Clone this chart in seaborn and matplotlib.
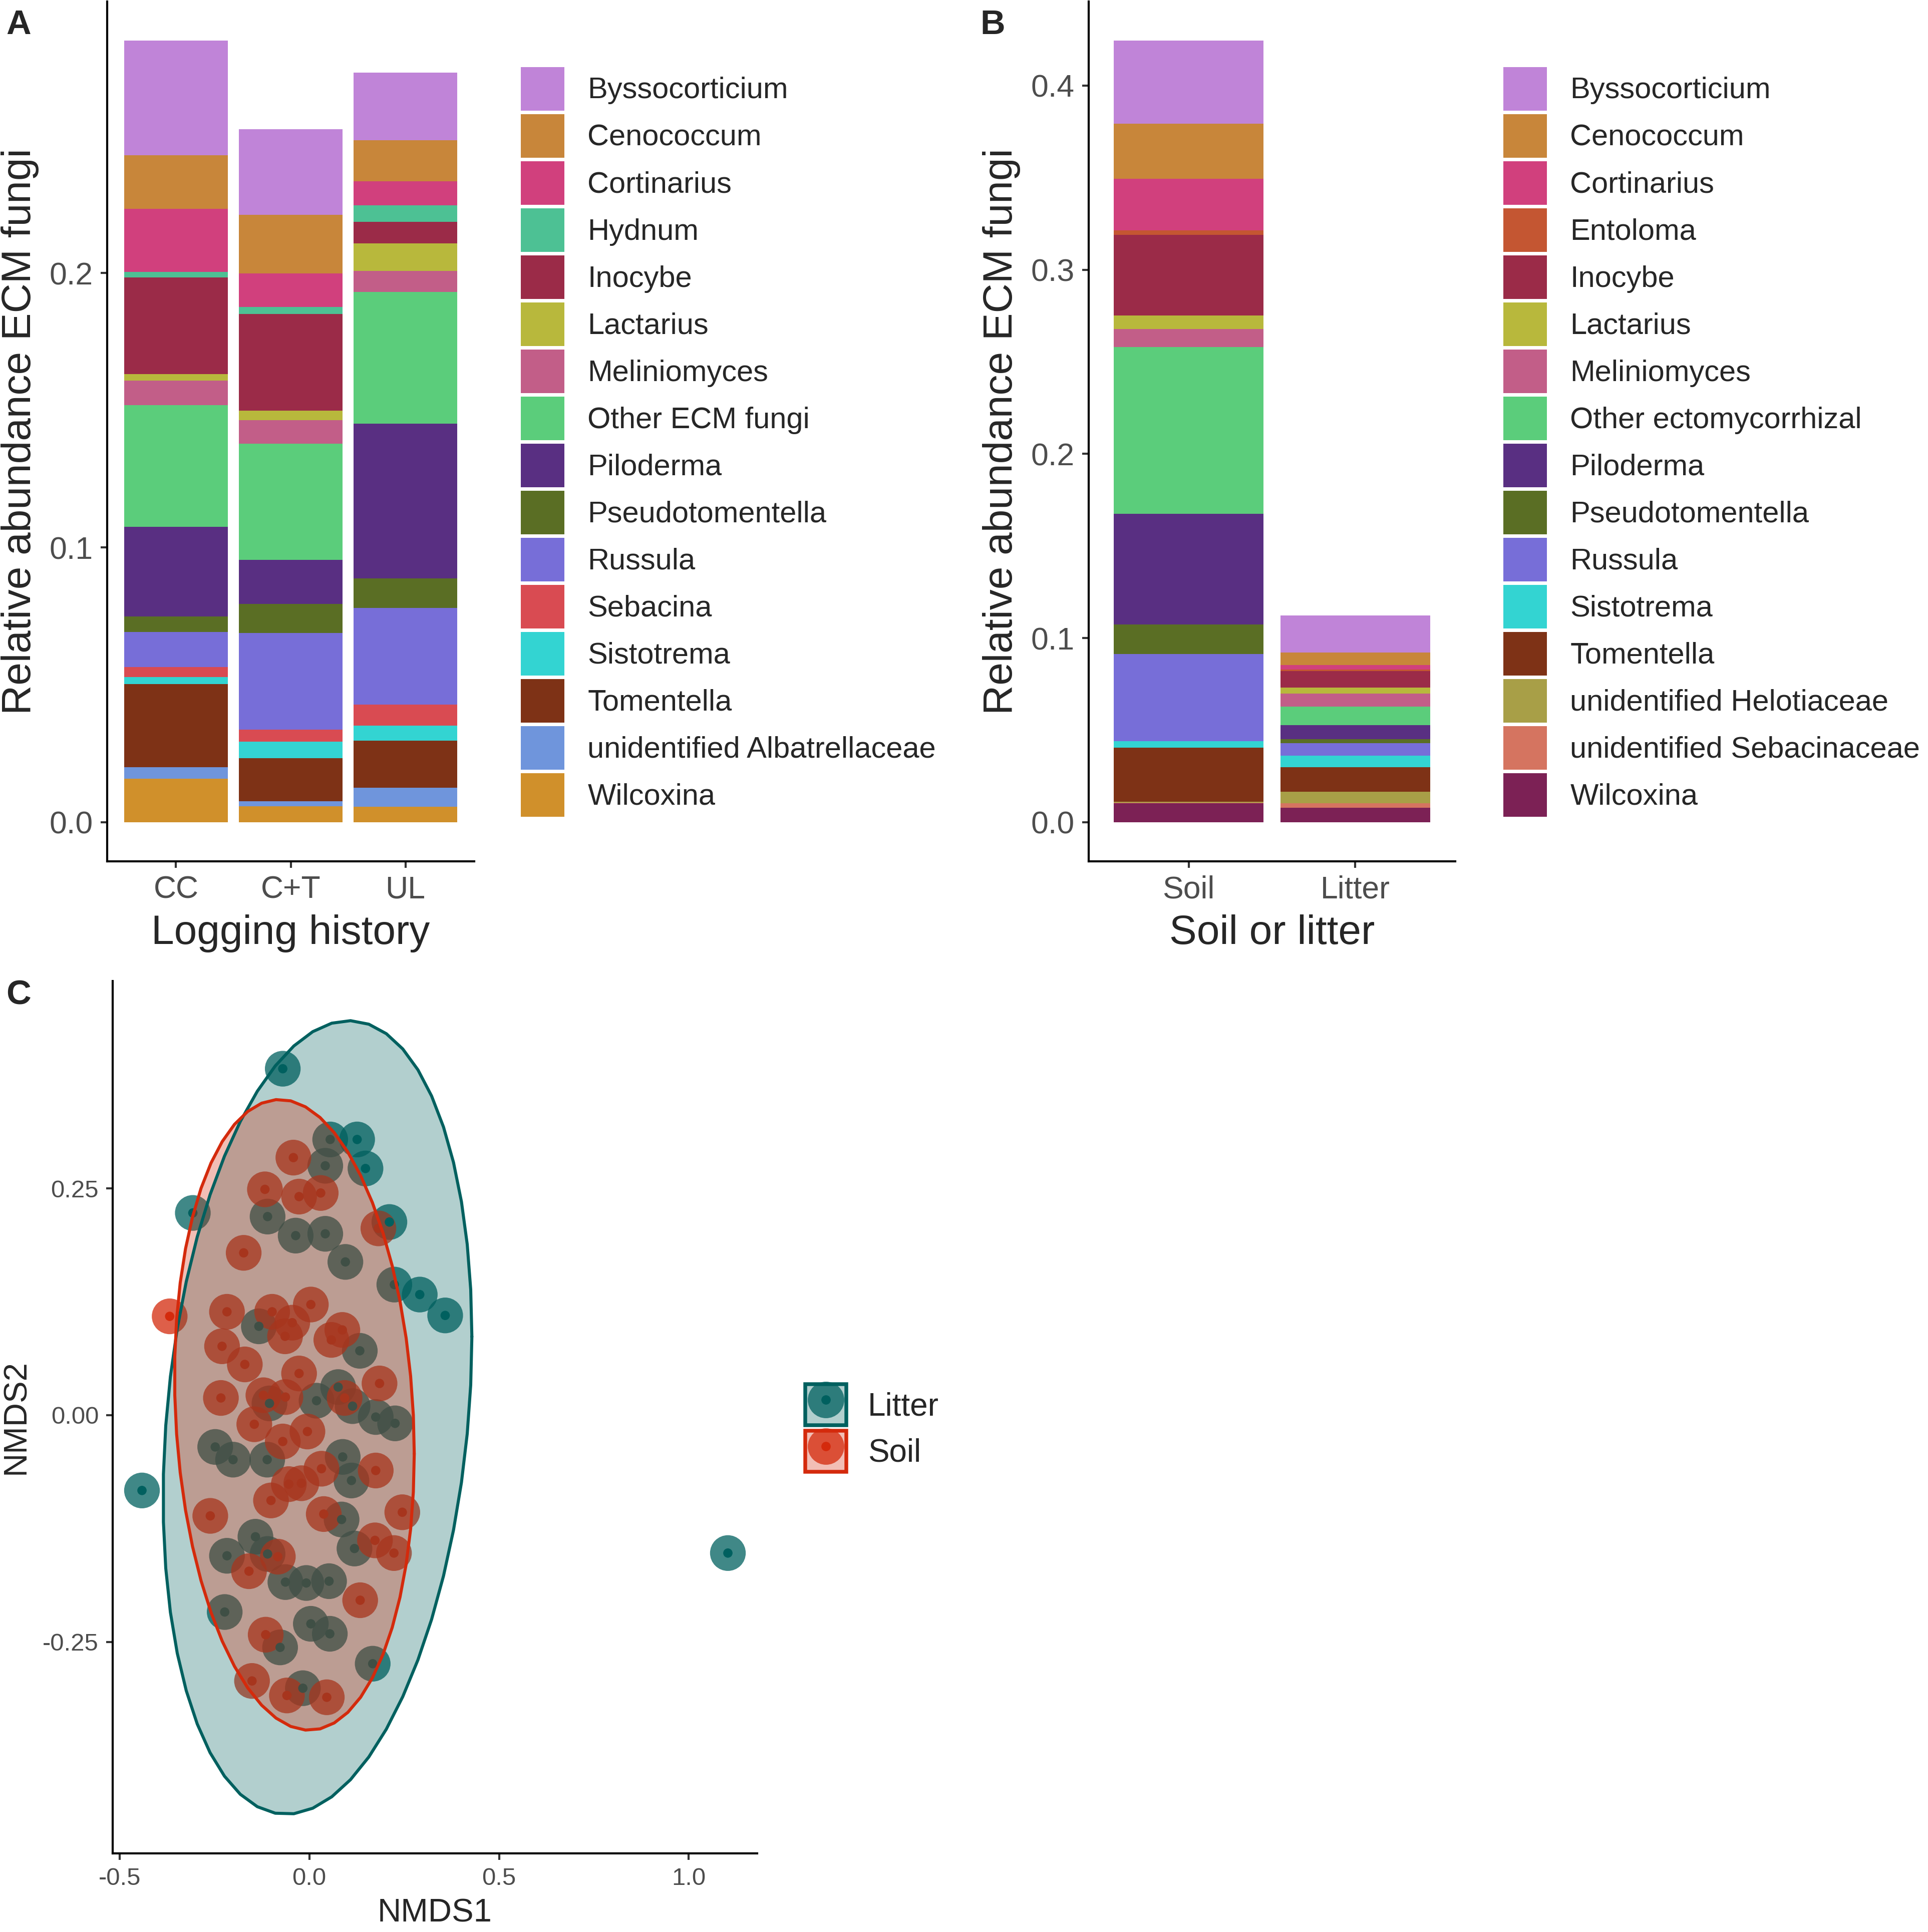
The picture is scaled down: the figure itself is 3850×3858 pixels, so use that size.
import numpy as np
import pandas as pd
import matplotlib
matplotlib.use("Agg")
import matplotlib.pyplot as plt
import seaborn as sns
from matplotlib.patches import Patch
from matplotlib.lines import Line2D
from matplotlib.legend_handler import HandlerTuple

# ---------------- Panel A data ----------------
genera_a = ["Byssocorticium", "Cenococcum", "Cortinarius", "Hydnum", "Inocybe",
            "Lactarius", "Meliniomyces", "Other ECM fungi", "Piloderma",
            "Pseudotomentella", "Russula", "Sebacina", "Sistotrema", "Tomentella",
            "unidentified Albatrellaceae", "Wilcoxina"]
history = ["CC", "C+T", "UL"]
cc_vals = [0.0418, 0.0194, 0.0230, 0.0020, 0.0352, 0.0024, 0.0090, 0.0442,
           0.0326, 0.0058, 0.0126, 0.0038, 0.0024, 0.0304, 0.0042, 0.0158]
ct_vals = [0.0312, 0.0214, 0.0122, 0.0026, 0.0352, 0.0034, 0.0086, 0.0422,
           0.0162, 0.0104, 0.0352, 0.0044, 0.0060, 0.0158, 0.0018, 0.0058]
ul_vals = [0.0246, 0.0150, 0.0088, 0.0060, 0.0078, 0.0100, 0.0078, 0.0478,
           0.0564, 0.0108, 0.0352, 0.0076, 0.0054, 0.0172, 0.0070, 0.0056]
colors_a = ["#C084D8", "#C8863A", "#D1407D", "#4DC194", "#9B2B48", "#B8B83C",
            "#C25E88", "#5BCD7B", "#592F82", "#5A6E24", "#776ED8", "#D94B52",
            "#33D4D2", "#7E3216", "#6F95DC", "#D0902B"]

# ---------------- Panel B data ----------------
genera_b = ["Byssocorticium", "Cenococcum", "Cortinarius", "Entoloma", "Inocybe",
            "Lactarius", "Meliniomyces", "Other ectomycorrhizal", "Piloderma",
            "Pseudotomentella", "Russula", "Sistotrema", "Tomentella",
            "unidentified Helotiaceae", "unidentified Sebacinaceae", "Wilcoxina"]
substrate = ["Soil", "Litter"]
soil_vals = [0.0450, 0.0301, 0.0280, 0.0024, 0.0438, 0.0074, 0.0098, 0.0905,
             0.0599, 0.0161, 0.0474, 0.0036, 0.0292, 0.0005, 0.0003, 0.0104]
litter_vals = [0.0200, 0.0069, 0.0024, 0.0009, 0.0089, 0.0033, 0.0069, 0.0101,
               0.0077, 0.0021, 0.0069, 0.0063, 0.0131, 0.0063, 0.0024, 0.0080]
colors_b = ["#C084D8", "#C8863A", "#D1407D", "#C45632", "#9B2B48", "#B8B83C",
            "#C25E88", "#5BCD7B", "#592F82", "#5A6E24", "#776ED8", "#33D4D2",
            "#7E3216", "#A89F47", "#D57460", "#7C2155"]

# ---------------- Panel C data (NMDS scores) ----------------
litter_x = [-0.070, 0.055, 0.126, 0.148, 0.042, -0.307, -0.110, -0.036, 0.042, 0.095,
            0.211, 0.224, 0.291, 0.358, -0.133, 0.133, 0.076, 0.019, -0.105, 0.114,
            0.175, 0.226, -0.248, -0.201, -0.111, 0.088, 0.111, 0.085, -0.142, -0.217,
            -0.110, 0.119, -0.063, -0.008, 0.052, -0.223, 0.004, 0.054, -0.077, 0.167,
            -0.017, -0.441, 1.103]
litter_y = [0.382, 0.304, 0.304, 0.272, 0.275, 0.223, 0.219, 0.198, 0.200, 0.169,
            0.213, 0.144, 0.133, 0.110, 0.098, 0.071, 0.031, 0.016, 0.013, 0.010,
            -0.002, -0.009, -0.035, -0.049, -0.049, -0.046, -0.072, -0.115, -0.134, -0.155,
            -0.153, -0.147, -0.184, -0.185, -0.183, -0.217, -0.230, -0.241, -0.256, -0.274,
            -0.301, -0.083, -0.152]
soil_x = [-0.042, -0.117, -0.027, 0.030, 0.182, -0.173, -0.368, -0.217, -0.098, 0.004,
          -0.045, -0.064, 0.087, 0.058, -0.230, -0.170, -0.027, 0.185, -0.233, -0.121,
          -0.063, 0.093, -0.145, -0.070, -0.005, 0.032, 0.175, -0.054, -0.021, -0.101,
          -0.261, 0.038, 0.245, 0.173, 0.223, -0.159, -0.083, 0.134, -0.115, -0.151,
          -0.059, 0.046]
soil_y = [0.284, 0.249, 0.241, 0.245, 0.206, 0.179, 0.109, 0.114, 0.114, 0.122,
          0.102, 0.087, 0.094, 0.083, 0.076, 0.056, 0.046, 0.035, 0.019, 0.022,
          0.020, 0.019, -0.010, -0.029, -0.018, -0.059, -0.061, -0.076, -0.075, -0.094,
          -0.111, -0.109, -0.107, -0.138, -0.152, -0.172, -0.156, -0.204, -0.242, -0.293,
          -0.309, -0.311]
groups_c = ["Litter", "Soil"]
group_colors = {"Litter": "#00605F", "Soil": "#D42A0C"}

W, H, DPI = 3850, 3858, 300
sns.set_style("white")
plt.rcParams["font.family"] = ["Liberation Sans", "DejaVu Sans"]
TICK_C = "#4D4D4D"

fig = plt.figure(figsize=(W / DPI, H / DPI), dpi=DPI)


def fx(px):
    return px / W


def fy(py):
    return 1 - py / H


def style_axes(ax, tick_size):
    for s in ["top", "right"]:
        ax.spines[s].set_visible(False)
    for s in ["left", "bottom"]:
        ax.spines[s].set_color("black")
        ax.spines[s].set_linewidth(1.0)
    ax.tick_params(axis="both", which="both", direction="out", length=3.2, width=1.0,
                   color="#333333", labelcolor=TICK_C, labelsize=tick_size, pad=3.5,
                   left=True, bottom=True)
    ax.grid(False)
    ax.set_facecolor("white")


def stacked_bars(ax, cats, values, colors):
    vals = np.array(values)               # (ncat, ngen)
    cum = np.cumsum(vals[:, ::-1], axis=1)[:, ::-1]
    for i, c in enumerate(colors):
        df = pd.DataFrame({"cat": cats, "top": cum[:, i]})
        sns.barplot(data=df, x="cat", y="top", order=cats, color=c, width=0.9,
                    saturation=1, linewidth=0, errorbar=None, ax=ax)
    tot = cum[:, 0].max()
    ax.set_ylim(-0.05 * tot, 1.05 * tot)
    ax.set_xlim(-0.6, len(cats) - 0.4)
    ax.set_xticks(range(len(cats)))
    ax.set_xticklabels(cats)


def bar_legend(genera, colors, x0, y0):
    handles = [Patch(facecolor=c, edgecolor="none") for c in colors]
    fig.legend(handles, genera, loc="upper left", bbox_to_anchor=(fx(x0), fy(y0)),
               frameon=False, fontsize=14.3, handlelength=1.46, handleheight=1.86,
               labelspacing=0.124, handletextpad=0.78, borderpad=0, borderaxespad=0)


# ---------------- Panel A ----------------
axA = fig.add_axes([fx(214), fy(1720), fx(947) - fx(214), fy(3) - fy(1720)])
stacked_bars(axA, history, [cc_vals, ct_vals, ul_vals], colors_a)
style_axes(axA, 15)
axA.set_yticks([0.0, 0.1, 0.2])
axA.set_yticklabels(["0.0", "0.1", "0.2"])
axA.set_xlabel("Logging history", fontsize=19.7, labelpad=4.5)
axA.set_ylabel("Relative abundance ECM fungi", fontsize=19.7, labelpad=5)
bar_legend(genera_a, colors_a, 1040, 134)

# ---------------- Panel B ----------------
axB = fig.add_axes([fx(2174), fy(1720), fx(2906) - fx(2174), fy(3) - fy(1720)])
stacked_bars(axB, substrate, [soil_vals, litter_vals], colors_b)
style_axes(axB, 15)
axB.set_yticks([0.0, 0.1, 0.2, 0.3, 0.4])
axB.set_yticklabels(["0.0", "0.1", "0.2", "0.3", "0.4"])
axB.set_xlabel("Soil or litter", fontsize=19.7, labelpad=4.5)
axB.set_ylabel("Relative abundance ECM fungi", fontsize=19.7, labelpad=5)
bar_legend(genera_b, colors_b, 3002, 134)

# ---------------- Panel C ----------------
dfC = pd.DataFrame({
    "NMDS1": litter_x + soil_x,
    "NMDS2": litter_y + soil_y,
    "Type": ["Litter"] * len(litter_x) + ["Soil"] * len(soil_x),
})


def cov_trob(x, nu=5, maxit=25, tol=0.01):
    n, p = x.shape
    loc = x.mean(axis=0)
    w = np.ones(n)
    for _ in range(maxit):
        w0 = w.copy()
        X = x - loc
        S = (X * (w / w.sum())[:, None]).T @ X
        Q = np.einsum("ij,jk,ik->i", X, np.linalg.inv(S), X)
        w = (nu + p) / (nu + Q)
        loc = (w[:, None] * x).sum(axis=0) / w.sum()
        if np.all(np.abs(w - w0) < tol):
            break
    X = x - loc
    cov = (X * w[:, None]).T @ X / n
    return loc, cov


def ellipse_points(x, level=0.95, segments=51):
    n = x.shape[0]
    loc, cov = cov_trob(x)
    dfd = n - 1
    fq = (dfd / 2.0) * ((1 - level) ** (-2.0 / dfd) - 1)
    radius = np.sqrt(2 * fq)
    ang = np.linspace(0, 2 * np.pi, segments + 1)
    circ = np.column_stack([np.cos(ang), np.sin(ang)])
    L = np.linalg.cholesky(cov)
    return loc + radius * circ @ L.T


ells = {}
for g in groups_c:
    sub = dfC[dfC["Type"] == g][["NMDS1", "NMDS2"]].to_numpy()
    ells[g] = ellipse_points(sub)

axC = fig.add_axes([fx(225), fy(3701), fx(1512) - fx(225), fy(1959) - fy(3701)])
sns.scatterplot(data=dfC, x="NMDS1", y="NMDS2", hue="Type", hue_order=groups_c,
                palette=group_colors, s=293, alpha=0.75, linewidth=0, legend=False,
                ax=axC, zorder=2)
sns.scatterplot(data=dfC, x="NMDS1", y="NMDS2", hue="Type", hue_order=groups_c,
                palette=group_colors, s=20, alpha=1, linewidth=0, legend=False,
                ax=axC, zorder=2.5)
for g in groups_c:
    e = ells[g]
    axC.fill(e[:, 0], e[:, 1], facecolor=group_colors[g], alpha=0.3, edgecolor="none",
             zorder=3)
    axC.plot(e[:, 0], e[:, 1], color=group_colors[g], lw=1.45, zorder=3.1)

allx = np.concatenate([dfC["NMDS1"].to_numpy()] + [ells[g][:, 0] for g in groups_c])
ally = np.concatenate([dfC["NMDS2"].to_numpy()] + [ells[g][:, 1] for g in groups_c])
rx = allx.max() - allx.min()
ry = ally.max() - ally.min()
axC.set_xlim(allx.min() - 0.05 * rx, allx.max() + 0.05 * rx)
axC.set_ylim(ally.min() - 0.05 * ry, ally.max() + 0.05 * ry)
style_axes(axC, 11.8)
axC.set_xticks([-0.5, 0.0, 0.5, 1.0])
axC.set_xticklabels(["-0.5", "0.0", "0.5", "1.0"])
axC.set_yticks([-0.25, 0.0, 0.25])
axC.set_yticklabels(["-0.25", "0.00", "0.25"])
axC.set_xlabel("NMDS1", fontsize=15.7, labelpad=4)
axC.set_ylabel("NMDS2", fontsize=15.7, labelpad=5.5)

handlesC = []
for g in groups_c:
    c = group_colors[g]
    box = Patch(facecolor=matplotlib.colors.to_rgba(c, 0.3), edgecolor=c, linewidth=1.8)
    outer = Line2D([], [], linestyle="none", marker="o", markersize=17.5,
                   markerfacecolor=matplotlib.colors.to_rgba(c, 0.75), markeredgewidth=0)
    inner = Line2D([], [], linestyle="none", marker="o", markersize=4.5,
                   markerfacecolor=c, markeredgewidth=0)
    handlesC.append((box, outer, inner))
fig.legend(handlesC, groups_c, loc="upper left", bbox_to_anchor=(fx(1608), fy(2764)),
           handler_map={tuple: HandlerTuple(ndivide=1)}, numpoints=1,
           frameon=False, fontsize=15.3, handlelength=1.294, handleheight=1.614,
           labelspacing=0.163, handletextpad=0.66, borderpad=0, borderaxespad=0)

# ---------------- Panel letters ----------------
for lab, x0, y0 in [("A", 12, 18), ("B", 1957, 18), ("C", 12, 1955)]:
    fig.text(fx(x0), fy(y0), lab, fontsize=16.5, fontweight="bold", ha="left", va="top")

fig.savefig("out.png", dpi=DPI, facecolor="white")
